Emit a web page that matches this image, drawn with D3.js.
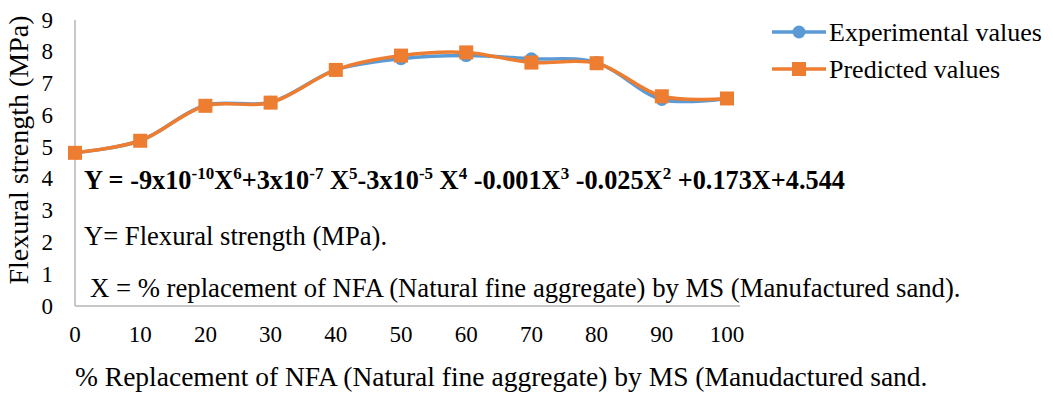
<!DOCTYPE html>
<html>
<head>
<meta charset="utf-8">
<script src="https://cdn.jsdelivr.net/npm/d3@7"></script>
<style>
  body { margin: 0; background: #fff; }
</style>
</head>
<body>
<div id="chart"></div>
<script>
// Data
const replacement = [0, 10, 20, 30, 40, 50, 60, 70, 80, 90, 100];
const experimental = [4.82, 5.2, 6.32, 6.41, 7.43, 7.78, 7.88, 7.78, 7.66, 6.5, 6.53];
const predicted = [4.82, 5.2, 6.3, 6.4, 7.43, 7.88, 7.98, 7.66, 7.64, 6.6, 6.53];
const yTicks = [0, 1, 2, 3, 4, 5, 6, 7, 8, 9];
const seriesNames = ["Experimental values", "Predicted values"];

const W = 1053, H = 397;
const svg = d3.select("#chart").append("svg")
    .attr("width", W).attr("height", H)
    .attr("font-family", "'Liberation Serif', 'Times New Roman', 'DejaVu Serif', serif");

const x = d3.scaleLinear().domain([0, 100]).range([75, 727]);
const y = d3.scaleLinear().domain([0, 9]).range([306, 20]);

// axes lines (light grey, no ticks)
svg.append("line")
    .attr("x1", x(0)).attr("x2", x(0))
    .attr("y1", y(9)).attr("y2", y(0))
    .attr("stroke", "#c8c8c8").attr("stroke-width", 2);
svg.append("line")
    .attr("x1", x(0)).attr("x2", 740)
    .attr("y1", y(0)).attr("y2", y(0))
    .attr("stroke", "#c8c8c8").attr("stroke-width", 2);

// y tick labels
svg.selectAll(".ylab")
    .data(yTicks)
    .enter().append("text")
    .attr("class", "ylab")
    .attr("x", 53)
    .attr("y", d => y(d))
    .attr("dy", "0.33em")
    .attr("text-anchor", "end")
    .style("font-size", "23px")
    .text(d => d);

// x tick labels
svg.selectAll(".xlab")
    .data(replacement)
    .enter().append("text")
    .attr("class", "xlab")
    .attr("x", d => x(d))
    .attr("y", 342)
    .attr("text-anchor", "middle")
    .style("font-size", "23px")
    .text(d => d);

// axis titles
svg.append("text")
    .attr("transform", "translate(28,150) rotate(-90)")
    .attr("text-anchor", "middle")
    .style("font-size", "28px")
    .text("Flexural strength (MPa)");

svg.append("text")
    .attr("x", 75)
    .attr("y", 386)
    .style("font-size", "27.5px")
    .text("% Replacement of NFA (Natural fine aggregate) by MS (Manudactured sand.");

// equation texts
const eq = svg.append("text")
    .attr("x", 84).attr("y", 189)
    .style("font-size", "26.3px")
    .style("font-weight", "bold");
const parts = [
    ["Y = -9x10", 0], ["-10", 1], ["X", 0], ["6", 1], ["+3x10", 0], ["-7", 1], [" X", 0], ["5", 1],
    ["-3x10", 0], ["-5", 1], [" X", 0], ["4", 1], [" -0.001X", 0], ["3", 1], [" -0.025X", 0], ["2", 1],
    [" +0.173X+4.544", 0]
];
let prevSup = 0;
parts.forEach(p => {
    const t = eq.append("tspan").text(p[0]);
    if (p[1] === 1) {
        t.attr("dy", -10).style("font-size", "17px");
        prevSup = 1;
    } else if (prevSup) {
        t.attr("dy", 10);
        prevSup = 0;
    }
});

svg.append("text")
    .attr("x", 84).attr("y", 245)
    .style("font-size", "26.6px")
    .text("Y= Flexural strength (MPa).");

svg.append("text")
    .attr("x", 90).attr("y", 297)
    .style("font-size", "26.7px")
    .text("X = % replacement of NFA (Natural fine aggregate) by MS (Manufactured sand).");

// series
const colors = ["#5b9bd5", "#ed7d31"];
const series = [experimental, predicted];
const line = d3.line()
    .x((d, i) => x(replacement[i]))
    .y(d => y(d))
    .curve(d3.curveCatmullRom.alpha(0.5));

series.forEach((vals, s) => {
    svg.append("path")
        .datum(vals)
        .attr("fill", "none")
        .attr("stroke", colors[s])
        .attr("stroke-width", 3.5)
        .attr("d", line);
});

// markers
svg.selectAll(".dot")
    .data(experimental)
    .enter().append("circle")
    .attr("cx", (d, i) => x(replacement[i]))
    .attr("cy", d => y(d))
    .attr("r", 6.5)
    .attr("fill", colors[0]);

svg.selectAll(".sq")
    .data(predicted)
    .enter().append("rect")
    .attr("x", (d, i) => x(replacement[i]) - 7)
    .attr("y", d => y(d) - 7)
    .attr("width", 14).attr("height", 14)
    .attr("fill", colors[1]);

// legend
const leg = svg.append("g");
seriesNames.forEach((name, i) => {
    const ly = 32 + i * 37;
    leg.append("line")
        .attr("x1", 772).attr("x2", 826)
        .attr("y1", ly).attr("y2", ly)
        .attr("stroke", colors[i]).attr("stroke-width", 3.5);
    if (i === 0) {
        leg.append("circle").attr("cx", 799).attr("cy", ly).attr("r", 6.5).attr("fill", colors[i]);
    } else {
        leg.append("rect").attr("x", 792).attr("y", ly - 7).attr("width", 14).attr("height", 14).attr("fill", colors[i]);
    }
    leg.append("text")
        .attr("x", 829).attr("y", ly)
        .attr("dy", "0.33em")
        .style("font-size", "26px")
        .text(name);
});
</script>
</body>
</html>
